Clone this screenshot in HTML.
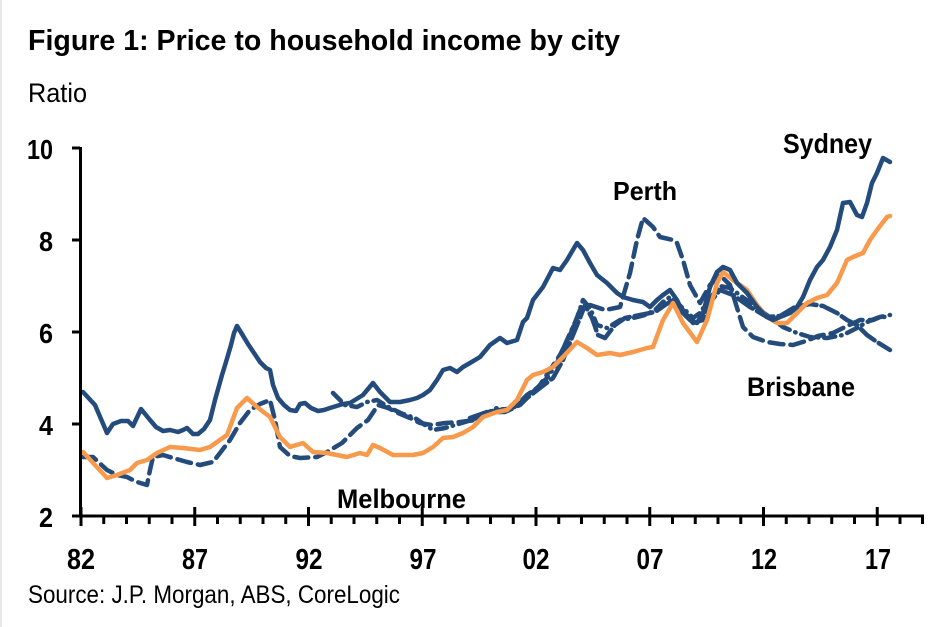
<!DOCTYPE html>
<html>
<head>
<meta charset="utf-8">
<style>
  html,body{margin:0;padding:0;background:#fff;}
  body{width:940px;height:627px;overflow:hidden;}
  svg{display:block;}
  text{font-family:"Liberation Sans",Arial,sans-serif;fill:#000;}
</style>
</head>
<body>
<svg width="940" height="627" viewBox="0 0 940 627" xmlns="http://www.w3.org/2000/svg">
  <rect x="0" y="0" width="940" height="627" fill="#fff"/>
  <line x1="1" y1="0" x2="1" y2="627" stroke="#e2e2e2" stroke-width="1.5"/>

  <!-- Title -->
  <text x="28" y="50" font-size="29" font-weight="bold" textLength="592" lengthAdjust="spacingAndGlyphs">Figure 1: Price to household income by city</text>
  <text x="28" y="102" font-size="27" textLength="59" lengthAdjust="spacingAndGlyphs">Ratio</text>

  <!-- Y axis labels -->
  <g font-size="28" font-weight="bold" text-anchor="end">
    <text x="53" y="159" textLength="26" lengthAdjust="spacingAndGlyphs">10</text>
    <text x="53" y="251" textLength="14" lengthAdjust="spacingAndGlyphs">8</text>
    <text x="53" y="343" textLength="14" lengthAdjust="spacingAndGlyphs">6</text>
    <text x="53" y="435" textLength="14" lengthAdjust="spacingAndGlyphs">4</text>
    <text x="53" y="527" textLength="14" lengthAdjust="spacingAndGlyphs">2</text>
  </g>

  <!-- X axis labels -->
  <g font-size="29" font-weight="bold" text-anchor="middle">
    <text x="81" y="569" textLength="28" lengthAdjust="spacingAndGlyphs">82</text>
    <text x="195" y="569" textLength="26" lengthAdjust="spacingAndGlyphs">87</text>
    <text x="309" y="569" textLength="27" lengthAdjust="spacingAndGlyphs">92</text>
    <text x="423" y="569" textLength="27" lengthAdjust="spacingAndGlyphs">97</text>
    <text x="536" y="569" textLength="27" lengthAdjust="spacingAndGlyphs">02</text>
    <text x="650" y="569" textLength="27" lengthAdjust="spacingAndGlyphs">07</text>
    <text x="764" y="569" textLength="26" lengthAdjust="spacingAndGlyphs">12</text>
    <text x="878" y="569" textLength="26" lengthAdjust="spacingAndGlyphs">17</text>
  </g>

  <!-- Source -->
  <text x="28" y="603" font-size="25" textLength="372" lengthAdjust="spacingAndGlyphs">Source: J.P. Morgan, ABS, CoreLogic</text>

  <!-- Series -->
  <g fill="none" stroke-linejoin="round" stroke-linecap="round" stroke-width="4.5">
    <!-- Unlabelled series (long dash) -->
    <polyline stroke="#234b7c" stroke-dasharray="18 5"
      points="470,418 487,412 500,410 513,408 527,398 540,388 553,378 563,360 573,335 580,318 585,305 592,318 598,335 605,338 615,325 625,318 640,315 655,312 665,305 673,300 683,310 693,323 703,320 712,300 720,290 733,295 750,307 767,317 780,316 795,307 810,304 823,306 837,313 847,320 857,325 867,335 877,342 890,350"/>

    <!-- Brisbane (dash-dot) -->
    <polyline stroke="#234b7c" stroke-dasharray="11 6 0.5 6"
      points="333,393 345,405 357,407 367,402 377,400 390,408 403,414 415,418 425,425 433,430 445,428 455,425 465,422 477,418 487,413 497,408 507,410 517,405 527,395 537,388 547,378 557,363 567,340 577,318 583,300 590,308 597,325 607,328 620,320 633,318 645,315 655,310 663,302 670,297 677,303 685,310 693,318 700,313 710,298 720,286 730,288 737,293 760,310 783,327 797,333 810,337 827,338 843,335 857,328 867,322 877,318 890,316"/>

    <!-- Perth (dashed) -->
    <polyline stroke="#234b7c" stroke-dasharray="14 7"
      points="83,457 93,457 107,470 117,475 127,477 137,482 147,485 150,470 153,457 163,455 173,458 187,462 200,465 213,462 220,453 230,440 240,423 250,410 260,404 270,400 275,420 280,447 290,456 300,458 317,457 327,452 342,443 357,428 368,420 378,405 388,408 398,413 410,418 420,423 432,425 445,423 460,422 475,420 490,412 505,412 520,405 530,395 540,385 550,370 560,355 570,335 580,310 590,305 605,310 620,307 630,273 637,240 643,218 653,227 660,237 673,240 677,243 683,260 690,285 700,303 710,285 720,275 730,285 743,327 753,337 767,342 780,344 793,345 806,341 818,336 833,333 845,327 860,320 873,320 880,317 890,315"/>

    <!-- Melbourne (orange) -->
    <polyline stroke="#f79a4c"
      points="83,452 95,465 107,478 117,475 130,470 137,463 147,460 157,453 170,447 183,448 200,450 210,447 217,442 227,435 237,408 247,398 257,407 270,417 280,437 290,447 303,443 313,452 327,453 347,457 360,453 367,455 373,445 380,448 393,455 413,455 423,453 433,447 443,438 453,437 463,433 473,427 483,417 497,412 507,410 517,400 527,380 533,375 543,372 553,367 563,357 577,342 587,348 597,355 610,353 620,355 633,352 647,348 653,347 663,320 673,303 683,323 697,342 707,320 717,283 723,272 733,280 747,290 757,305 767,317 777,323 787,323 797,313 807,303 817,298 827,295 837,283 847,260 853,257 863,253 870,240 877,230 887,217 890,216"/>

    <!-- Sydney (solid) -->
    <polyline stroke="#234b7c"
      points="83,392 95,405 107,433 113,424 121,421 128,421 133,426 141,409 150,420 156,427 163,431 170,430 178,432 183,430 187,428 193,434 198,434 204,429 210,420 215,400 222,375 226,362 231,345 234,333 237,326 242,334 248,344 254,353 260,362 266,368 270,370 273,385 278,398 284,405 290,410 296,411 300,404 305,403 311,408 318,411 324,410 330,408 343,404 350,403 363,395 373,383 380,392 390,402 400,402 410,400 417,398 423,395 430,390 437,380 443,370 450,368 457,372 463,367 470,363 480,357 490,345 500,338 507,343 517,340 523,322 527,318 533,300 543,287 553,268 560,270 567,260 577,243 583,250 590,263 597,275 607,283 617,293 623,297 633,300 643,302 650,307 657,300 663,295 670,290 677,300 683,313 690,320 697,323 703,313 710,287 717,272 723,267 730,270 737,283 747,293 757,307 767,317 773,320 780,317 790,313 797,307 803,297 810,280 817,267 823,260 830,247 837,230 843,203 850,202 857,215 862,217 867,203 872,183 877,173 883,158 890,162"/>
  </g>

  <!-- Axes -->
  <g stroke="#000" stroke-width="3" fill="none">
    <line x1="80.5" y1="147" x2="80.5" y2="517"/>
    <line x1="72" y1="148" x2="80" y2="148"/>
    <line x1="72" y1="240" x2="80" y2="240"/>
    <line x1="72" y1="332" x2="80" y2="332"/>
    <line x1="72" y1="424" x2="80" y2="424"/>
    <line x1="72" y1="516" x2="924" y2="516"/>
    <!-- major ticks -->
    <line x1="81" y1="507" x2="81" y2="526"/>
    <line x1="194.75" y1="507" x2="194.75" y2="526"/>
    <line x1="308.5" y1="507" x2="308.5" y2="526"/>
    <line x1="422.25" y1="507" x2="422.25" y2="526"/>
    <line x1="536" y1="507" x2="536" y2="526"/>
    <line x1="649.75" y1="507" x2="649.75" y2="526"/>
    <line x1="763.5" y1="507" x2="763.5" y2="526"/>
    <line x1="877.25" y1="507" x2="877.25" y2="526"/>
  </g>
  <!-- minor ticks -->
  <g stroke="#000" stroke-width="3">
    <line x1="103.75" y1="516" x2="103.75" y2="524"/>
    <line x1="126.5" y1="516" x2="126.5" y2="524"/>
    <line x1="149.25" y1="516" x2="149.25" y2="524"/>
    <line x1="172" y1="516" x2="172" y2="524"/>
    <line x1="217.5" y1="516" x2="217.5" y2="524"/>
    <line x1="240.25" y1="516" x2="240.25" y2="524"/>
    <line x1="263" y1="516" x2="263" y2="524"/>
    <line x1="285.75" y1="516" x2="285.75" y2="524"/>
    <line x1="331.25" y1="516" x2="331.25" y2="524"/>
    <line x1="354" y1="516" x2="354" y2="524"/>
    <line x1="376.75" y1="516" x2="376.75" y2="524"/>
    <line x1="399.5" y1="516" x2="399.5" y2="524"/>
    <line x1="445" y1="516" x2="445" y2="524"/>
    <line x1="467.75" y1="516" x2="467.75" y2="524"/>
    <line x1="490.5" y1="516" x2="490.5" y2="524"/>
    <line x1="513.25" y1="516" x2="513.25" y2="524"/>
    <line x1="558.75" y1="516" x2="558.75" y2="524"/>
    <line x1="581.5" y1="516" x2="581.5" y2="524"/>
    <line x1="604.25" y1="516" x2="604.25" y2="524"/>
    <line x1="627" y1="516" x2="627" y2="524"/>
    <line x1="672.5" y1="516" x2="672.5" y2="524"/>
    <line x1="695.25" y1="516" x2="695.25" y2="524"/>
    <line x1="718" y1="516" x2="718" y2="524"/>
    <line x1="740.75" y1="516" x2="740.75" y2="524"/>
    <line x1="786.25" y1="516" x2="786.25" y2="524"/>
    <line x1="809" y1="516" x2="809" y2="524"/>
    <line x1="831.75" y1="516" x2="831.75" y2="524"/>
    <line x1="854.5" y1="516" x2="854.5" y2="524"/>
    <line x1="900" y1="516" x2="900" y2="524"/>
    <line x1="922.5" y1="516" x2="922.5" y2="524"/>
  </g>

  <!-- Series labels -->
  <g font-weight="bold">
    <text x="783" y="153" font-size="28" textLength="89" lengthAdjust="spacingAndGlyphs">Sydney</text>
    <text x="613" y="200" font-size="26" textLength="64" lengthAdjust="spacingAndGlyphs">Perth</text>
    <text x="747" y="396" font-size="27" textLength="108" lengthAdjust="spacingAndGlyphs">Brisbane</text>
    <text x="337" y="508" font-size="27" textLength="129" lengthAdjust="spacingAndGlyphs">Melbourne</text>
  </g>
</svg>
</body>
</html>
